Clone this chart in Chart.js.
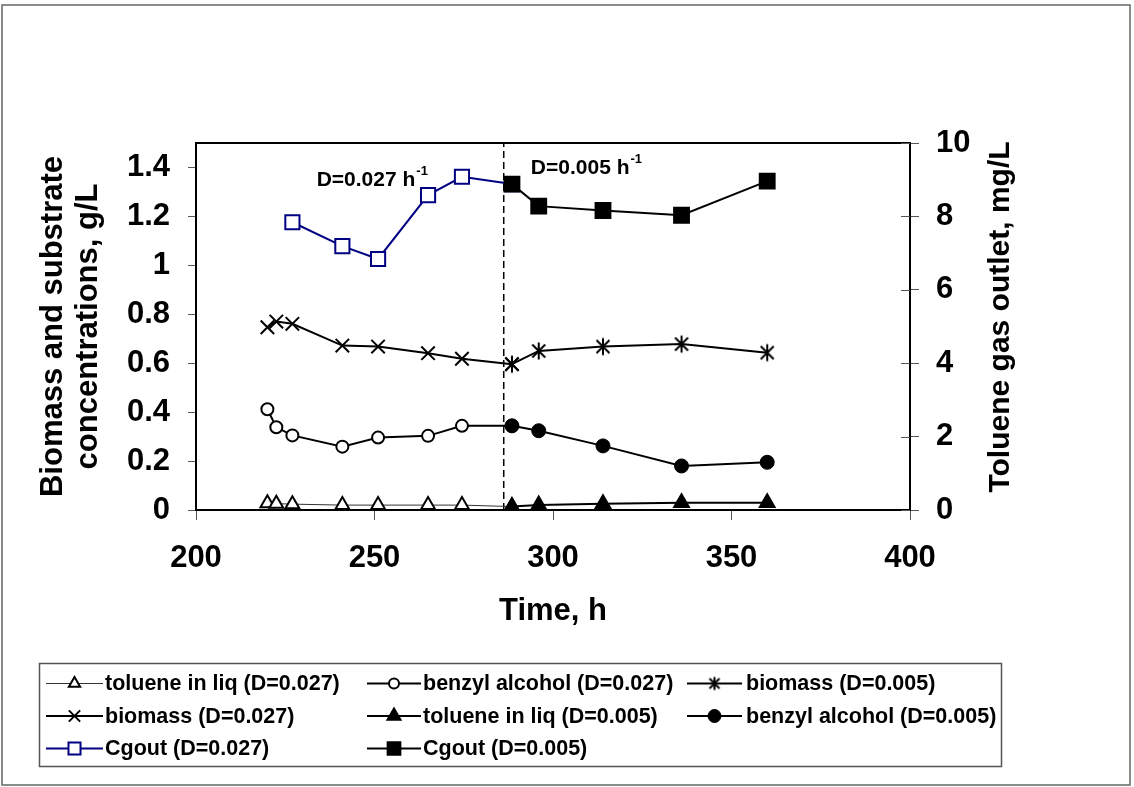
<!DOCTYPE html>
<html>
<head>
<meta charset="utf-8">
<script src="https://cdn.jsdelivr.net/npm/chart.js@4.4.1/dist/chart.umd.min.js"></script>
<style>
  html, body { margin: 0; padding: 0; background: #fff; }
  canvas { display: block; }
</style>
</head>
<body>
<canvas id="chart" width="1134" height="787"></canvas>
<script>
// sampling times, h
const timesD027 = [220, 222.5, 227, 241, 251, 265, 274.5, 288.5];
const timesD005 = [288.5, 296, 314, 336, 360];

// liquid phase, g/L
const tolueneD027 = [0.028, 0.026, 0.024, 0.02, 0.02, 0.02, 0.02, 0.014];
const benzylD027 = [0.412, 0.338, 0.305, 0.259, 0.296, 0.303, 0.344, 0.344];
const biomassD027 = [0.747, 0.770, 0.761, 0.672, 0.668, 0.641, 0.618, 0.596];
const tolueneD005 = [0.014, 0.02, 0.026, 0.03, 0.03];
const benzylD005 = [0.344, 0.324, 0.262, 0.180, 0.195];
const biomassD005 = [0.596, 0.650, 0.668, 0.678, 0.643];

// toluene in outlet gas, mg/L
const cgoutD027 = [null, null, 7.84, 7.19, 6.84, 8.58, 9.08, 8.88];
const cgoutD005 = [8.88, 8.28, 8.16, 8.03, 8.96];

// dilution rate switched from 0.027 to 0.005 1/h here
const switchTime = 286.2;

const xTickValues = [200, 250, 300, 350, 400];
const leftTickValues = [0, 0.2, 0.4, 0.6, 0.8, 1, 1.2, 1.4];
const rightTickValues = [0, 2, 4, 6, 8, 10];

const FONT = '"Liberation Sans", Arial, sans-serif';

function pts(times, values) {
  return times.map((t, i) => ({ x: t, y: values[i] })).filter(p => p.y !== null);
}

// six-armed asterisk (X plus a vertical bar)
function asterisk(size, arm, armX, width) {
  const c = document.createElement('canvas');
  c.width = size; c.height = size;
  const g = c.getContext('2d');
  const m = size / 2;
  g.strokeStyle = '#000';
  g.lineWidth = width;
  g.beginPath();
  g.moveTo(m, m - arm); g.lineTo(m, m + arm);
  g.moveTo(m - armX, m - armX); g.lineTo(m + armX, m + armX);
  g.moveTo(m - armX, m + armX); g.lineTo(m + armX, m - armX);
  g.stroke();
  return c;
}
const starMark = asterisk(20, 8.5, 6.5, 2);
const starLegend = asterisk(16, 6.5, 5, 2);

function series(label, times, values, opts) {
  return Object.assign({
    label: label,
    data: pts(times, values),
    borderColor: '#000',
    borderWidth: 2,
    pointBorderColor: '#000',
    pointBorderWidth: 2,
    pointBackgroundColor: '#000',
    tension: 0,
    fill: false,
    yAxisID: 'y'
  }, opts);
}

const datasets = [
  series('toluene in liq (D=0.027)', timesD027, tolueneD027,
    { pointStyle: 'triangle', pointRadius: 8, legendRadius: 6.5, pointBackgroundColor: '#fff', borderWidth: 1, borderColor: '#333', order: 2 }),
  series('benzyl alcohol (D=0.027)', timesD027, benzylD027,
    { pointStyle: 'circle', pointRadius: 6, legendRadius: 5, pointBackgroundColor: '#fff', order: 2 }),
  series('biomass (D=0.005)', timesD005, biomassD005,
    { pointStyle: starMark, pointRadius: 9, legendStyle: starLegend, order: 1 }),
  series('biomass (D=0.027)', timesD027, biomassD027,
    { pointStyle: 'crossRot', pointRadius: 9.5, legendRadius: 8, order: 2 }),
  series('toluene in liq (D=0.005)', timesD005, tolueneD005,
    { pointStyle: 'triangle', pointRadius: 8.5, legendRadius: 7.5, order: 1 }),
  series('benzyl alcohol (D=0.005)', timesD005, benzylD005,
    { pointStyle: 'circle', pointRadius: 7, legendRadius: 6.5, pointBorderWidth: 1, order: 1 }),
  series('Cgout (D=0.027)', timesD027, cgoutD027,
    { pointStyle: 'rect', pointRadius: 10, legendRadius: 8.5, pointBackgroundColor: '#fff', pointBorderColor: '#000080', borderColor: '#000080', yAxisID: 'y1', order: 2 }),
  series('Cgout (D=0.005)', timesD005, cgoutD005,
    { pointStyle: 'rect', pointRadius: 10.5, legendRadius: 9, yAxisID: 'y1', order: 1 }),
  {
    label: '',
    noLegend: true,
    data: [{ x: switchTime, y: 0 }, { x: switchTime, y: 1.5 }],
    borderColor: '#000',
    borderWidth: 1.5,
    borderDash: [7, 4],
    pointRadius: 0,
    yAxisID: 'y',
    order: 3
  }
];

function fixedTicks(values) {
  return scale => { scale.ticks = values.map(v => ({ value: v })); };
}

const rateLabels = [
  { x: 233.8, y: 1.326, text: 'D=0.027 h', sup: '-1' },
  { x: 293.8, y: 1.372, text: 'D=0.005 h', sup: '-1' }
];

// frame, right axis title, rate labels, legend table
const decorations = {
  id: 'decorations',
  afterDraw(chart) {
    const { ctx, chartArea: a, scales } = chart;
    ctx.save();

    ctx.strokeStyle = '#000';
    ctx.lineWidth = 2;
    ctx.strokeRect(a.left, a.top, a.right - a.left, a.bottom - a.top);

    // inner half of the right axis ticks
    ctx.strokeStyle = '#555';
    ctx.lineWidth = 1;
    ctx.beginPath();
    scales.y1.ticks.forEach(t => {
      const y = Math.round(scales.y1.getPixelForValue(t.value)) + 0.5;
      ctx.moveTo(a.right - 9, y);
      ctx.lineTo(a.right, y);
    });
    ctx.stroke();

    ctx.fillStyle = '#000';
    ctx.save();
    ctx.translate(1001, 317);
    ctx.rotate(-Math.PI / 2);
    ctx.font = 'bold 30px ' + FONT;
    ctx.textAlign = 'center';
    ctx.textBaseline = 'middle';
    ctx.fillText('Toluene gas outlet, mg/L', 0, 0);
    ctx.restore();

    ctx.textAlign = 'left';
    ctx.textBaseline = 'alphabetic';
    rateLabels.forEach(l => {
      const x = scales.x.getPixelForValue(l.x);
      const y = scales.y.getPixelForValue(l.y);
      ctx.font = 'bold 21px ' + FONT;
      ctx.fillText(l.text, x, y);
      const w = ctx.measureText(l.text).width;
      ctx.font = 'bold 13px ' + FONT;
      ctx.fillText(l.sup, x + w + 1, y - 11);
    });

    // legend
    ctx.strokeStyle = '#555';
    ctx.lineWidth = 1.5;
    ctx.strokeRect(39.5, 663.5, 962, 103);

    const cols = [{ x0: 46, x1: 103, tx: 105 }, { x0: 367, x1: 421, tx: 423 }, { x0: 687, x1: 742, tx: 746 }];
    const rows = [683.5, 716, 748.5];
    const items = chart.data.datasets.filter(d => !d.noLegend);
    items.forEach((d, i) => {
      const c = cols[i % 3];
      const y = rows[Math.floor(i / 3)];
      ctx.strokeStyle = d.borderColor;
      ctx.lineWidth = d.borderWidth;
      ctx.beginPath();
      ctx.moveTo(c.x0, y);
      ctx.lineTo(c.x1, y);
      ctx.stroke();
      ctx.fillStyle = d.pointBackgroundColor;
      ctx.strokeStyle = d.pointBorderColor;
      ctx.lineWidth = d.pointBorderWidth;
      Chart.helpers.drawPoint(ctx, {
        pointStyle: d.legendStyle || d.pointStyle,
        radius: d.legendRadius || 7,
        rotation: 0,
        borderWidth: d.pointBorderWidth
      }, (c.x0 + c.x1) / 2, y);
      ctx.fillStyle = '#000';
      ctx.font = 'bold 21.5px ' + FONT;
      ctx.textBaseline = 'middle';
      ctx.fillText(d.label, c.tx, y + 1);
    });

    // outer border
    ctx.strokeStyle = '#666';
    ctx.lineWidth = 1.5;
    ctx.strokeRect(2, 5, 1128, 780);
    ctx.restore();
  }
};

const tickFont = { family: FONT, size: 31, weight: 'bold' };

new Chart(document.getElementById('chart').getContext('2d'), {
  type: 'line',
  data: { datasets: datasets },
  options: {
    responsive: false,
    animation: false,
    events: [],
    layout: { padding: { top: 143, bottom: 157, left: 0, right: 0 } },
    plugins: {
      legend: { display: false },
      tooltip: { enabled: false }
    },
    scales: {
      x: {
        type: 'linear',
        min: 200,
        max: 400,
        afterBuildTicks: fixedTicks(xTickValues),
        afterFit: s => { s.height = 120; },
        ticks: { font: tickFont, color: '#000', padding: 20, maxRotation: 0 },
        grid: { drawOnChartArea: false, tickLength: 10, color: '#555' },
        border: { color: '#000', width: 2 },
        title: { display: true, text: 'Time, h', font: tickFont, color: '#000', padding: 0 }
      },
      y: {
        type: 'linear',
        position: 'left',
        min: 0,
        max: 1.5,
        afterBuildTicks: fixedTicks(leftTickValues),
        afterFit: s => { s.width = 196; },
        ticks: { font: tickFont, color: '#000', padding: 18, callback: v => String(+v.toFixed(1)) },
        grid: { drawOnChartArea: false, tickLength: 8, color: '#555' },
        border: { color: '#000', width: 2 },
        title: {
          display: true,
          text: ['Biomass and substrate', 'concentrations, g/L'],
          font: { family: FONT, size: 31, weight: 'bold', lineHeight: 1.13 },
          color: '#000',
          padding: { top: 36, bottom: 0 }
        }
      },
      y1: {
        type: 'linear',
        position: 'right',
        min: 0,
        max: 10,
        afterBuildTicks: fixedTicks(rightTickValues),
        afterFit: s => { s.width = 224; },
        ticks: { font: tickFont, color: '#000', padding: 17 },
        grid: { drawOnChartArea: false, tickLength: 9, color: '#555' },
        border: { color: '#000', width: 2 }
      }
    }
  },
  plugins: [decorations]
});
</script>
</body>
</html>
